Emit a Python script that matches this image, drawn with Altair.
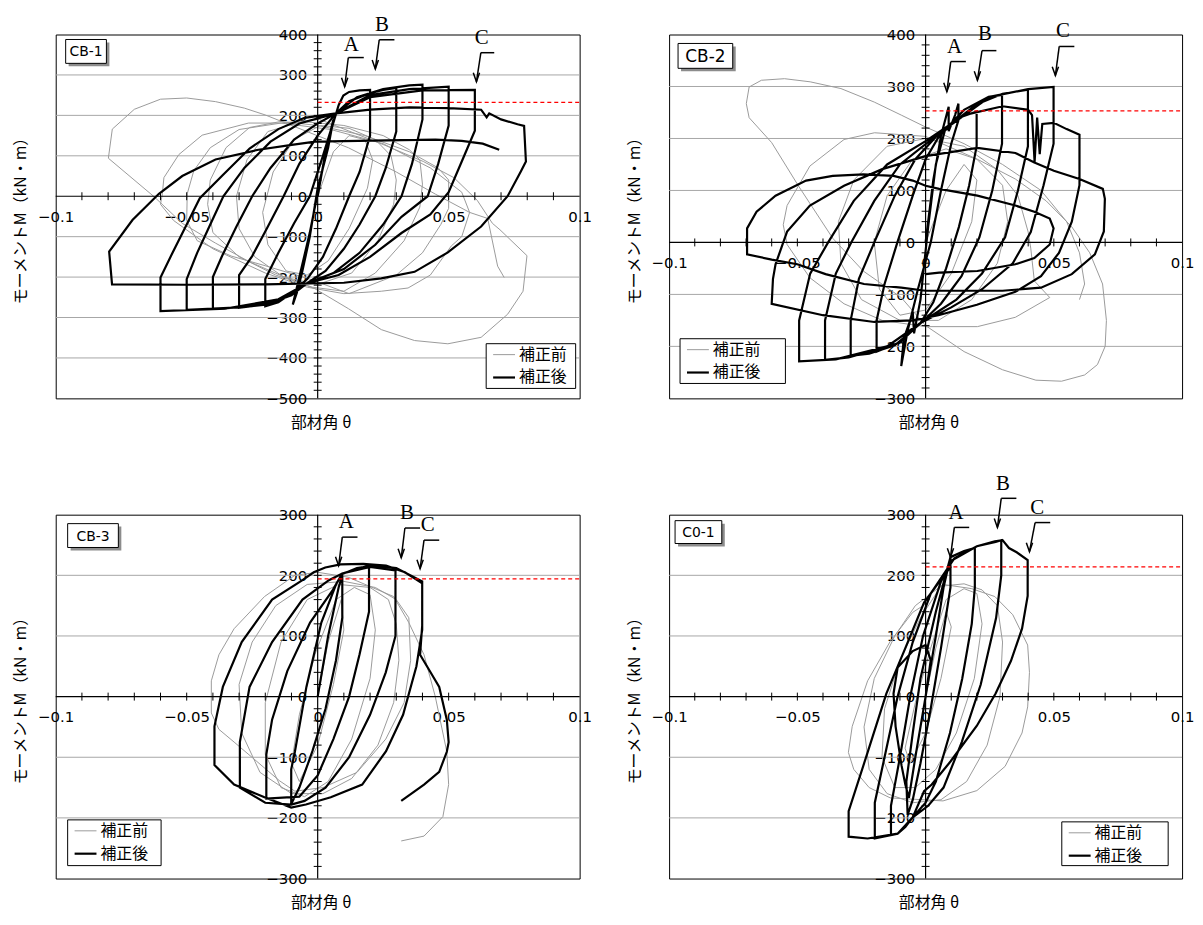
import altair as alt
import pandas as pd

# ---------------- shared axis values ----------------
X_LABELS = [-0.1, -0.05, 0, 0.05, 0.1]
X_MINOR = [-0.09, -0.08, -0.07, -0.06, -0.05, -0.04, -0.03, -0.02, -0.01,
           0.01, 0.02, 0.03, 0.04, 0.05, 0.06, 0.07, 0.08, 0.09]
SERIES_NAMES = ["補正前", "補正後"]

# ---------------- CB-1 ----------------
CB1_AFTER = [
    (0.000, 0), (0.003, 110), (0.006, 190), (0.004, 120), (0.000, 20), (-0.003, -100),
    (-0.006, -190), (-0.008, -240), (-0.0095, -268), (-0.007, -200), (-0.003, -90),
    (0.001, 40), (0.005, 160), (0.008, 225), (0.0098, 249), (0.012, 258), (0.016, 262),
    (0.020, 263), (0.020, 150), (0.016, 60), (0.012, 0), (0.007, -80), (0.002, -150),
    (-0.004, -205), (-0.010, -240), (-0.015, -262), (-0.020, -272), (-0.020, -205),
    (-0.015, -140), (-0.009, -67), (-0.003, 0), (0.002, 100), (0.007, 205), (0.012, 235),
    (0.020, 255), (0.025, 263), (0.030, 268), (0.030, 160), (0.026, 70), (0.022, 0),
    (0.016, -70), (0.010, -130), (0.003, -185), (-0.004, -215), (-0.010, -245),
    (-0.020, -268), (-0.030, -276), (-0.030, -195), (-0.025, -148), (-0.019, -75),
    (-0.013, 0), (-0.007, 80), (0.000, 150), (0.007, 205), (0.015, 245), (0.025, 265),
    (0.035, 274), (0.040, 276), (0.040, 190), (0.036, 80), (0.032, 0), (0.025, -70),
    (0.016, -140), (0.006, -190), (-0.004, -215), (-0.012, -250), (-0.025, -272),
    (-0.040, -280), (-0.040, -200), (-0.0365, -148), (-0.031, -75), (-0.025, 0),
    (-0.018, 70), (-0.009, 140), (0.000, 180), (0.007, 205), (0.020, 250), (0.035, 265),
    (0.050, 271), (0.050, 175), (0.046, 80), (0.042, 0), (0.032, -51), (0.022, -120),
    (0.010, -180), (-0.004, -215), (-0.015, -255), (-0.030, -275), (-0.050, -281),
    (-0.050, -205), (-0.046, -140), (-0.041, -70), (-0.036, 0), (-0.028, 70),
    (-0.018, 135), (-0.007, 180), (0.007, 205), (0.020, 245), (0.040, 262), (0.060, 263),
    (0.060, 162), (0.055, 86), (0.050, 10), (0.043, -45), (0.032, -91), (0.020, -150),
    (0.008, -195), (-0.004, -215), (-0.015, -255), (-0.035, -278), (-0.060, -284),
    (-0.060, -201), (-0.0555, -141), (-0.050, -70), (-0.045, -5), (-0.036, 54),
    (-0.026, 118), (-0.015, 166), (-0.005, 194), (0.007, 205), (0.020, 214), (0.035, 220),
    (0.050, 218), (0.0624, 214), (0.0645, 195), (0.0655, 205), (0.070, 190),
    (0.0763, 178), (0.0788, 174), (0.0795, 86), (0.0776, 62), (0.0725, 0), (0.0624, -75),
    (0.0497, -139), (0.037, -187), (0.0243, -203), (0.010, -214), (-0.020, -218),
    (-0.050, -219), (-0.0785, -218), (-0.0796, -137), (-0.0707, -59), (-0.0606, 6),
    (-0.0517, 50), (-0.039, 91), (-0.0226, 115), (-0.0099, 127), (-0.001, 135),
    (0.032, 139), (0.045, 140), (0.055, 137), (0.063, 130), (0.0693, 115),
]
CB1_BEFORE = [
    (0.000, 0), (0.006, 110), (0.012, 150), (0.018, 140), (0.021, 90), (0.019, 20),
    (0.012, -80), (0.004, -160), (-0.004, -195), (-0.012, -185), (-0.019, -120),
    (-0.021, -40), (-0.017, 60), (-0.009, 140), (0.001, 175), (0.012, 168), (0.022, 140),
    (0.028, 100), (0.030, 40), (0.029, -20), (0.023, -110), (0.013, -190), (0.000, -218),
    (-0.013, -200), (-0.024, -150), (-0.030, -80), (-0.031, 0), (-0.027, 90),
    (-0.019, 160), (-0.006, 185), (0.010, 175), (0.025, 150), (0.035, 115), (0.039, 90),
    (0.040, 30), (0.039, -27), (0.033, -110), (0.022, -190), (0.010, -235),
    (-0.002, -225), (-0.016, -195), (-0.030, -150), (-0.040, -90), (-0.042, -20),
    (-0.041, 40), (-0.035, 120), (-0.026, 170), (-0.014, 185), (0.000, 175),
    (0.018, 150), (0.035, 110), (0.046, 70), (0.050, 40), (0.050, -30), (0.047, -70),
    (0.040, -140), (0.030, -195), (0.012, -241), (-0.003, -205), (-0.020, -172),
    (-0.033, -148), (-0.046, -110), (-0.050, -60), (-0.0498, 6), (-0.0473, 63),
    (-0.041, 120), (-0.030, 165), (-0.014, 181), (0.005, 165), (0.025, 130),
    (0.043, 70), (0.055, 10), (0.058, -40), (0.055, -100), (0.051, -123), (0.043, -195),
    (0.0345, -227), (0.0243, -235), (0.010, -241), (-0.004, -225), (-0.020, -190),
    (-0.040, -130), (-0.055, -60), (-0.060, -20), (-0.0593, 6), (-0.0587, 46),
    (-0.053, 103), (-0.0441, 151), (-0.0264, 181), (-0.0137, 181), (0.0007, 190),
    (0.0257, 126), (0.0403, 86), (0.052, 46), (0.0609, -10), (0.0667, -67),
    (0.0696, -83), (0.0799, -147), (0.0784, -235), (0.0725, -292), (0.0624, -349),
    (0.0497, -365), (0.037, -357), (0.0243, -330), (0.0117, -278), (-0.001, -229),
    (-0.0137, -197), (-0.0264, -161), (-0.039, -116), (-0.0517, -67), (-0.0623, -2),
    (-0.0799, 94), (-0.0784, 166), (-0.070, 215), (-0.060, 240), (-0.050, 243),
    (-0.039, 234), (-0.028, 218), (-0.020, 201), (-0.001, 152), (0.0117, 120),
    (0.030, 60), (0.045, 5), (0.058, -40), (0.0649, -55), (0.0687, -173), (0.0712, -201),
]
CB1_LIMIT = 232
CB1_MARKS = ["A", "B", "C"]
CB1_MARK_T = [0.0128, 0.0245, 0.0626]
CB1_MARK_M = [375, 423, 391]
CB1_BAR_T0 = [0.0117, 0.0235, 0.0623]
CB1_BAR_T1 = [0.0176, 0.0293, 0.0674]
CB1_BAR_M = [343, 387, 355]
CB1_TIP_T = [0.0103, 0.0220, 0.0606]
CB1_TIP_M = [271, 315, 283]

# ---------------- CB-2 ----------------
CB2_AFTER = [
    (0.000, 0), (0.003, 120), (0.006, 205), (0.009, 261), (0.009, 214), (0.0115, 245),
    (0.0128, 267), (0.0128, 235), (0.010, 190), (0.006, 100), (0.002, 0), (-0.003, -90),
    (-0.007, -170), (-0.0095, -238), (-0.0085, -185), (-0.006, -150), (-0.005, -134),
    (-0.0045, -175), (-0.002, -110), (0.001, 30), (0.004, 150), (0.0075, 215),
    (0.013, 240), (0.0199, 252), (0.0199, 185), (0.017, 110), (0.013, 30), (0.008, -50),
    (0.003, -115), (-0.002, -155), (-0.010, -192), (-0.0191, -210), (-0.0191, -150),
    (-0.016, -80), (-0.011, 0), (-0.005, 90), (0.000, 160), (0.0053, 205), (0.015, 255),
    (0.0246, 280), (0.0298, 284), (0.0298, 190), (0.026, 100), (0.021, 10),
    (0.014, -65), (0.006, -118), (-0.002, -156), (-0.012, -198), (-0.022, -214),
    (-0.0292, -218), (-0.0292, -150), (-0.026, -70), (-0.020, 0), (-0.012, 90),
    (-0.004, 160), (0.0053, 210), (0.020, 266), (0.030, 286), (0.0399, 294),
    (0.0399, 185), (0.036, 100), (0.031, 10), (0.022, -60), (0.012, -110),
    (-0.002, -155), (-0.015, -200), (-0.030, -221), (-0.0392, -226), (-0.0392, -150),
    (-0.035, -60), (-0.029, 0), (-0.020, 80), (-0.010, 150), (0.0053, 210),
    (0.025, 280), (0.040, 295), (0.0499, 299), (0.0499, 190), (0.046, 110),
    (0.041, 20), (0.034, -40), (0.022, -90), (0.010, -125), (-0.002, -155),
    (-0.015, -200), (-0.035, -225), (-0.0493, -229), (-0.0493, -150), (-0.045, -60),
    (-0.038, 0), (-0.028, 80), (-0.015, 150), (0.000, 195), (0.015, 245), (0.030, 262),
    (0.040, 255), (0.0415, 245), (0.0425, 155), (0.0435, 240), (0.0445, 170),
    (0.0455, 228), (0.050, 230), (0.055, 218), (0.060, 207), (0.060, 110), (0.057, 40),
    (0.052, -20), (0.045, -65), (0.035, -95), (0.020, -120), (0.005, -140),
    (-0.005, -150), (-0.020, -153), (-0.040, -140), (-0.060, -118), (-0.0595, -70),
    (-0.0585, -42), (-0.054, 21), (-0.0451, 71), (-0.0318, 109), (-0.0169, 141),
    (0.000, 166), (0.0202, 182), (0.035, 172), (0.0424, 154), (0.050, 138),
    (0.060, 122), (0.0691, 103), (0.0699, 84), (0.0695, 21), (0.066, -23), (0.057, -61),
    (0.045, -87), (0.030, -93), (0.010, -93), (0.000, -93), (-0.0095, -87),
    (-0.024, -80), (-0.039, -61), (-0.050, -42), (-0.060, -33), (-0.0696, -23),
    (-0.0696, 27), (-0.0659, 59), (-0.0585, 90), (-0.0466, 119), (-0.0362, 128),
    (-0.0243, 131), (-0.0125, 128), (-0.005, 119), (0.000, 109), (0.0053, 103),
    (0.0202, 90), (0.035, 71), (0.0424, 59), (0.0484, 46), (0.0499, 27), (0.0484, -4),
    (0.0424, -30), (0.035, -42), (0.0202, -55), (0.0053, -58), (0.000, -61),
]
CB2_BEFORE = [
    (0.000, 0), (0.008, 100), (0.015, 150), (0.020, 120), (0.018, 40), (0.010, -60),
    (0.000, -130), (-0.010, -140), (-0.018, -90), (-0.020, 0), (-0.015, 90),
    (-0.005, 160), (0.008, 180), (0.020, 160), (0.030, 110), (0.032, 40), (0.028, -40),
    (0.018, -110), (0.005, -150), (-0.010, -150), (-0.025, -110), (-0.033, -40),
    (-0.034, 40), (-0.028, 120), (-0.015, 185), (0.000, 200), (0.015, 185),
    (0.028, 140), (0.036, 90), (0.040, 20), (0.041, -11), (0.0424, -74), (0.0484, -106),
    (0.035, -144), (0.0202, -162), (0.000, -162), (-0.0169, -150), (-0.0318, -118),
    (-0.0451, -68), (-0.054, -4), (-0.0555, 34), (-0.054, 71), (-0.0451, 147),
    (-0.0318, 198), (-0.0199, 211), (0.000, 204), (0.0202, 160), (0.035, 122),
    (0.047, 80), (0.057, 30), (0.064, -20), (0.069, -80), (0.0705, -150), (0.070, -200),
    (0.067, -235), (0.062, -255), (0.053, -267), (0.043, -265), (0.030, -245),
    (0.015, -210), (0.000, -160), (-0.0095, -106), (-0.0243, -55), (-0.0362, 8),
    (-0.0496, 109), (-0.060, 192), (-0.0688, 240), (-0.0699, 267), (-0.0688, 299),
    (-0.064, 312), (-0.055, 315), (-0.045, 309), (-0.033, 296), (-0.020, 270),
    (-0.0095, 245), (0.000, 222), (0.015, 190), (0.030, 150), (0.045, 100),
    (0.055, 40), (0.060, -20), (0.062, -80), (0.060, -110),
]
CB2_LIMIT = 253
CB2_MARKS = ["A", "B", "C"]
CB2_MARK_T = [0.0113, 0.0231, 0.0536]
CB2_MARK_M = [375, 400, 407]
CB2_BAR_T0 = [0.0098, 0.0220, 0.0521]
CB2_BAR_T1 = [0.0157, 0.0276, 0.0580]
CB2_BAR_M = [348, 369, 377]
CB2_TIP_T = [0.0083, 0.0202, 0.0506]
CB2_TIP_M = [290, 312, 321]

# ---------------- CB-3 ----------------
CB3_AFTER = [
    (0.000, 0), (0.004, 100), (0.008, 180), (0.0094, 200), (0.0094, 130), (0.007, 60),
    (0.003, -20), (-0.002, -90), (-0.007, -150), (-0.0101, -177), (-0.0101, -120),
    (-0.0087, -91), (-0.0043, 16), (0.0014, 122), (0.0072, 187), (0.0094, 202),
    (0.015, 212), (0.0196, 215), (0.0196, 140), (0.016, 70), (0.012, 0), (0.006, -70),
    (0.000, -130), (-0.007, -165), (-0.0196, -168), (-0.0196, -95), (-0.0174, -38),
    (-0.0116, 42), (-0.0029, 122), (0.0058, 176), (0.0094, 203), (0.020, 214),
    (0.0297, 208), (0.0297, 100), (0.026, 40), (0.020, -30), (0.012, -100),
    (0.003, -150), (-0.005, -172), (-0.0101, -178), (-0.020, -175), (-0.0297, -150),
    (-0.0297, -75), (-0.026, 16), (-0.0174, 90), (-0.0058, 160), (0.0043, 192),
    (0.0094, 203), (0.020, 217), (0.030, 212), (0.0399, 190), (0.0399, 110),
    (0.0377, 50), (0.0326, -30), (0.0261, -90), (0.017, -145), (0.005, -166),
    (-0.0045, -178), (-0.0101, -183), (-0.0203, -166), (-0.0319, -145), (-0.0394, -113),
    (-0.0394, -49), (-0.0362, 16), (-0.029, 90), (-0.0174, 160), (-0.0058, 192),
    (-0.0015, 205), (0.0029, 213), (0.0087, 218), (0.0174, 219), (0.0261, 216),
    (0.0333, 205), (0.0362, 197), (0.0399, 187), (0.0399, 117), (0.0391, 69),
    (0.042, 48), (0.0464, 16), (0.0493, -38), (0.050, -75), (0.0493, -91),
    (0.0464, -124), (0.0406, -145), (0.0319, -172),
]
CB3_BEFORE = [
    (0.000, 0), (0.004, 90), (0.009, 160), (0.010, 110), (0.006, 20), (0.000, -80),
    (-0.007, -140), (-0.010, -110), (-0.007, -30), (-0.001, 70), (0.007, 160),
    (0.014, 180), (0.020, 168), (0.022, 110), (0.020, 30), (0.013, -70), (0.004, -140),
    (-0.005, -165), (-0.014, -150), (-0.020, -95), (-0.020, -10), (-0.014, 90),
    (-0.004, 160), (0.008, 185), (0.020, 180), (0.027, 160), (0.030, 120),
    (0.031, 60), (0.029, -10), (0.023, -80), (0.013, -135), (0.002, -160),
    (-0.010, -160), (-0.022, -125), (-0.029, -60), (-0.030, 20), (-0.025, 90),
    (-0.016, 150), (-0.004, 185), (0.010, 190), (0.022, 180), (0.030, 160),
    (0.0348, 130), (0.0355, 60), (0.033, -10), (0.026, -70), (0.015, -125),
    (0.002, -150), (-0.0087, -156), (-0.0145, -139), (-0.0232, -107), (-0.0319, -75),
    (-0.0377, -54), (-0.0406, -27), (-0.0406, 26), (-0.0377, 69), (-0.0319, 112),
    (-0.0203, 165), (-0.0087, 200), (0.000, 205), (0.0116, 197), (0.0203, 181),
    (0.029, 165), (0.0348, 122), (0.0406, 69), (0.0449, 0), (0.0493, -91),
    (0.050, -145), (0.0478, -198), (0.0406, -230), (0.0319, -238),
]
CB3_LIMIT = 194
CB3_MARKS = ["A", "B", "C"]
CB3_MARK_T = [0.0109, 0.0341, 0.0420]
CB3_MARK_M = [288, 303, 283]
CB3_BAR_T0 = [0.0094, 0.0333, 0.0406]
CB3_BAR_T1 = [0.0152, 0.0391, 0.0464]
CB3_BAR_M = [263, 278, 258]
CB3_TIP_T = [0.0080, 0.0319, 0.0391]
CB3_TIP_M = [216, 229, 211]

# ---------------- C0-1 ----------------
C01_AFTER = [
    (0.000, 0), (0.002, 60), (0.000, 85), (-0.005, 75), (-0.0109, 48), (-0.0125, 5),
    (-0.0117, -49), (-0.0094, -113), (-0.0079, -145), (-0.0065, -167), (-0.004, -100),
    (0.000, 0), (0.004, 100), (0.007, 180), (0.0097, 230), (0.0097, 180), (0.006, 80),
    (0.002, -20), (-0.002, -110), (-0.005, -170), (-0.007, -195), (-0.0075, -140),
    (-0.005, -60), (-0.002, 30), (0.004, 140), (0.0097, 230), (0.015, 240),
    (0.0192, 245), (0.0192, 180), (0.018, 120), (0.0143, 30), (0.0095, -60),
    (0.004, -140), (0.000, -175), (-0.005, -199), (-0.0109, -226), (-0.0135, -228),
    (-0.0135, -180), (-0.010, -100), (-0.006, 0), (-0.001, 100), (0.006, 190),
    (0.0105, 225), (0.020, 248), (0.0273, 255), (0.0295, 258), (0.0295, 200),
    (0.0275, 130), (0.0215, 20), (0.0141, -75), (0.007, -150), (0.001, -180),
    (-0.005, -199), (-0.0109, -226), (-0.0198, -234), (-0.0198, -175), (-0.0155, -90),
    (-0.0109, 0), (-0.005, 90), (0.002, 170), (0.0112, 228), (0.020, 248),
    (0.027, 256), (0.030, 258), (0.0325, 245), (0.0355, 238), (0.0398, 225),
    (0.0398, 166), (0.0376, 112), (0.0333, 59), (0.0273, 5), (0.020, -48),
    (0.0097, -107), (0.0024, -145), (-0.0006, -156), (-0.005, -199), (-0.0079, -215),
    (-0.0109, -226), (-0.0226, -234), (-0.030, -231), (-0.030, -189), (-0.0226, -92),
    (-0.0153, 5), (-0.0079, 80), (-0.0006, 155), (0.0068, 198), (0.010, 215),
]
C01_BEFORE = [
    (0.000, 0), (0.004, 80), (0.008, 140), (0.010, 115), (0.006, 30), (0.000, -60),
    (-0.006, -110), (-0.008, -85), (-0.004, -10), (0.002, 80), (0.008, 160),
    (0.015, 178), (0.020, 170), (0.022, 120), (0.019, 30), (0.012, -60), (0.004, -120),
    (-0.004, -150), (-0.012, -150), (-0.017, -100), (-0.016, -20), (-0.010, 60),
    (-0.002, 130), (0.006, 182), (0.015, 186), (0.022, 176), (0.028, 150),
    (0.030, 90), (0.029, 0), (0.024, -80), (0.016, -140), (0.006, -170),
    (-0.005, -175), (-0.015, -160), (-0.022, -120), (-0.024, -50), (-0.020, 30),
    (-0.012, 100), (-0.004, 150), (0.0068, 185), (0.018, 178), (0.027, 165),
    (0.034, 135), (0.0398, 85), (0.0405, 40), (0.0398, -17), (0.0376, -60),
    (0.031, -115), (0.020, -155), (0.0068, -172), (-0.0138, -167), (-0.022, -150),
    (-0.028, -120), (-0.0301, -92), (-0.0286, -49), (-0.0226, 26), (-0.0138, 91),
    (-0.005, 139), (0.0009, 155),
]
C01_LIMIT = 214
C01_MARKS = ["A", "B", "C"]
C01_MARK_T = [0.0119, 0.0302, 0.0435]
C01_MARK_M = [303, 351, 311]
C01_BAR_T0 = [0.0112, 0.0295, 0.0427]
C01_BAR_T1 = [0.0170, 0.0354, 0.0486]
C01_BAR_M = [279, 327, 287]
C01_TIP_T = [0.0097, 0.0280, 0.0405]
C01_TIP_M = [230, 279, 239]

FONT_NUM = "DejaVu Sans"
FONT_JP = "Noto Sans CJK JP"
GRAY = "#9a9a9a"
GRID = "#a6a6a6"


def curve_df(points):
    return pd.DataFrame({"t": [p[0] for p in points],
                         "m": [p[1] for p in points],
                         "i": list(range(len(points)))})


def panel(cfg):
    W, H = cfg["W"], cfg["H"]
    ymin, ymax = cfg["ydom"]
    y0 = H * ymax / (ymax - ymin)
    xs = alt.Scale(domain=[-0.1, 0.1], nice=False, zero=False)
    ys = alt.Scale(domain=[ymin, ymax], nice=False, zero=False)
    xaxis = alt.Axis(values=X_LABELS, offset=-(H - y0), domain=False, ticks=False,
                     tickSize=0, grid=False, labelPadding=13, labelFont=FONT_NUM,
                     labelFontSize=15, labelColor="black",
                     labelExpr="datum.value == 0 ? '0' : format(datum.value, '.2~f')",
                     labelFlush=False, labelOverlap=False, labelBound=False,
                     title="部材角 θ", titleFont=FONT_JP, titleFontSize=16,
                     titleFontWeight="normal", titleColor="black",
                     titleX=W / 2 + 3, titleY=(H - y0) + 24,
                     titleBaseline="middle", titleAlign="center")
    yaxis = alt.Axis(values=cfg["ylabels"], offset=-W / 2, domain=False, ticks=False,
                     tickSize=0, grid=False, labelPadding=11, labelFont=FONT_NUM,
                     labelFontSize=15, labelColor="black", format="d",
                     labelFlush=False, labelOverlap=False, labelBound=False,
                     title="モーメントM（kN・m）", titleFont=FONT_JP, titleFontSize=16,
                     titleFontWeight="normal", titleColor="black",
                     titleX=-W / 2 - 35, titleY=H / 2, titleAngle=270,
                     titleBaseline="middle", titleAlign="center")

    def X(field):
        return alt.X(field, scale=xs, axis=xaxis)

    def Y(field):
        return alt.Y(field, scale=ys, axis=yaxis)

    def XD(v):
        return alt.XDatum(v, scale=xs, axis=xaxis, type="quantitative")

    def YD(v):
        return alt.YDatum(v, scale=ys, axis=yaxis, type="quantitative")

    one = pd.DataFrame({"k": [0]})

    grid = alt.Chart(pd.DataFrame({"m": cfg["grid"]})).mark_rule(
        color=GRID, strokeWidth=1).encode(y=Y("m:Q"))

    gray = alt.Chart(curve_df(cfg["before"])).mark_line(
        color=GRAY, strokeWidth=1).encode(x=X("t:Q"), y=Y("m:Q"), order="i:Q")
    black = alt.Chart(curve_df(cfg["after"])).mark_line(
        color="black", strokeWidth=2.2).encode(x=X("t:Q"), y=Y("m:Q"), order="i:Q")

    xline = alt.Chart(one).mark_rule(color="black", strokeWidth=1.2).encode(y=YD(0))
    yline = alt.Chart(one).mark_rule(color="black", strokeWidth=1.2).encode(x=XD(0))

    yminor = [v for v in range(ymin + 20, ymax, 20) if v != 0]
    yt = alt.Chart(pd.DataFrame({"m": yminor})).mark_point(
        shape="M-1,0L1,0", size=64, filled=False, color="black", strokeWidth=1,
        opacity=1).encode(x=XD(0), y=Y("m:Q"))
    xt = alt.Chart(pd.DataFrame({"t": X_MINOR})).mark_point(
        shape="M0,-1L0,1", size=64, filled=False, color="black", strokeWidth=1,
        opacity=1).encode(x=X("t:Q"), y=YD(0))

    red = alt.Chart(one).mark_rule(color="#ff0000", strokeDash=[4, 3],
                                   strokeWidth=1.3).encode(
        x=XD(0), x2=alt.X2Datum(0.1), y=YD(cfg["limit"]))

    adf = pd.DataFrame({"label": cfg["marks"], "lt": cfg["mark_t"], "lm": cfg["mark_m"],
                        "bt0": cfg["bar_t0"], "bt1": cfg["bar_t1"], "bm": cfg["bar_m"],
                        "tt": cfg["tip_t"], "tm": cfg["tip_m"]})
    letters = alt.Chart(adf).mark_text(font="Liberation Serif", fontSize=21,
                                       color="black").encode(
        x=X("lt:Q"), y=Y("lm:Q"), text="label:N")
    bars = alt.Chart(adf).mark_rule(color="black", strokeWidth=1.5).encode(
        x=X("bt0:Q"), x2="bt1", y=Y("bm:Q"))
    shafts = alt.Chart(adf).mark_rule(color="black", strokeWidth=1.5).encode(
        x=X("bt0:Q"), y=Y("bm:Q"), x2="tt", y2="tm")
    heads = alt.Chart(adf).mark_point(shape="M-0.35,-1L0,0L0.35,-1", size=324,
                                      filled=False, color="black", strokeWidth=1.5,
                                      opacity=1).encode(x=X("tt:Q"), y=Y("tm:Q"))

    bx0, by0, bx1, by1 = cfg["box"]
    shadow = alt.Chart(one).mark_rect(color="#8c8c8c").encode(
        x=alt.value(bx0 + 3), x2=alt.value(bx1 + 3), y=alt.value(by0 + 3), y2=alt.value(by1 + 3))
    box = alt.Chart(one).mark_rect(fill="white", stroke="black", strokeWidth=1).encode(
        x=alt.value(bx0), x2=alt.value(bx1), y=alt.value(by0), y2=alt.value(by1))
    boxtext = alt.Chart(one).mark_text(font=FONT_NUM, fontSize=cfg["boxfont"],
                                       color="black").encode(
        x=alt.value((bx0 + bx1) / 2), y=alt.value((by0 + by1) / 2 + 1),
        text=alt.value(cfg["name"]))

    lx0, ly0, lx1, ly1 = cfg["legend"]
    lbox = alt.Chart(one).mark_rect(fill="white", stroke="black", strokeWidth=1).encode(
        x=alt.value(lx0), x2=alt.value(lx1), y=alt.value(ly0), y2=alt.value(ly1))
    l1 = alt.Chart(one).mark_rule(color=GRAY, strokeWidth=1).encode(
        x=alt.value(lx0 + 7), x2=alt.value(lx0 + 29), y=alt.value(ly0 + 11))
    l2 = alt.Chart(one).mark_rule(color="black", strokeWidth=2.2).encode(
        x=alt.value(lx0 + 7), x2=alt.value(lx0 + 29), y=alt.value(ly0 + 34))
    t1 = alt.Chart(one).mark_text(font=FONT_JP, fontSize=16, align="left",
                                  baseline="middle", color="black").encode(
        x=alt.value(lx0 + 33), y=alt.value(ly0 + 11), text=alt.value(SERIES_NAMES[0]))
    t2 = alt.Chart(one).mark_text(font=FONT_JP, fontSize=16, align="left",
                                  baseline="middle", color="black").encode(
        x=alt.value(lx0 + 33), y=alt.value(ly0 + 34), text=alt.value(SERIES_NAMES[1]))

    return alt.layer(grid, gray, black, xline, yline, yt, xt, red,
                     shafts, bars, heads, letters, shadow, box, boxtext,
                     lbox, l1, l2, t1, t2).properties(width=W, height=H)


P1 = panel(dict(name="CB-1", W=527, H=366, ydom=(-500, 400),
                ylabels=[-500, -400, -300, -200, -100, 0, 100, 200, 300, 400],
                grid=[-400, -300, -200, -100, 100, 200, 300],
                after=CB1_AFTER, before=CB1_BEFORE, limit=CB1_LIMIT,
                marks=CB1_MARKS, mark_t=CB1_MARK_T, mark_m=CB1_MARK_M,
                bar_t0=CB1_BAR_T0, bar_t1=CB1_BAR_T1, bar_m=CB1_BAR_M,
                tip_t=CB1_TIP_T, tip_m=CB1_TIP_M,
                box=(10, 5, 51, 29), boxfont=14, legend=(433, 311, 523, 356)))
P2 = panel(dict(name="CB-2", W=516, H=366, ydom=(-300, 400),
                ylabels=[-300, -200, -100, 0, 100, 200, 300, 400],
                grid=[-200, -100, 100, 200, 300],
                after=CB2_AFTER, before=CB2_BEFORE, limit=CB2_LIMIT,
                marks=CB2_MARKS, mark_t=CB2_MARK_T, mark_m=CB2_MARK_M,
                bar_t0=CB2_BAR_T0, bar_t1=CB2_BAR_T1, bar_m=CB2_BAR_M,
                tip_t=CB2_TIP_T, tip_m=CB2_TIP_M,
                box=(9, 9, 64, 34), boxfont=17, legend=(11, 306, 117, 351)))
P3 = panel(dict(name="CB-3", W=527, H=366, ydom=(-300, 300),
                ylabels=[-300, -200, -100, 0, 100, 200, 300],
                grid=[-200, -100, 100, 200],
                after=CB3_AFTER, before=CB3_BEFORE, limit=CB3_LIMIT,
                marks=CB3_MARKS, mark_t=CB3_MARK_T, mark_m=CB3_MARK_M,
                bar_t0=CB3_BAR_T0, bar_t1=CB3_BAR_T1, bar_m=CB3_BAR_M,
                tip_t=CB3_TIP_T, tip_m=CB3_TIP_M,
                box=(12, 9, 63, 33), boxfont=14, legend=(12, 307, 106, 353)))
P4 = panel(dict(name="C0-1", W=516, H=366, ydom=(-300, 300),
                ylabels=[-300, -200, -100, 0, 100, 200, 300],
                grid=[-200, -100, 100, 200],
                after=C01_AFTER, before=C01_BEFORE, limit=C01_LIMIT,
                marks=C01_MARKS, mark_t=C01_MARK_T, mark_m=C01_MARK_M,
                bar_t0=C01_BAR_T0, bar_t1=C01_BAR_T1, bar_m=C01_BAR_M,
                tip_t=C01_TIP_T, tip_m=C01_TIP_M,
                box=(6, 6, 53, 29), boxfont=14, legend=(395, 309, 502, 353)))

chart = alt.concat(P1, P2, P3, P4, columns=2, bounds="flush",
                   spacing={"row": 117, "column": 90}).configure_view(
    stroke="black", strokeWidth=1).properties(
    background="white", padding={"left": 4, "top": 3, "right": 0, "bottom": 0})

chart.save("out.html", embed_options={"renderer": "svg", "actions": False})
